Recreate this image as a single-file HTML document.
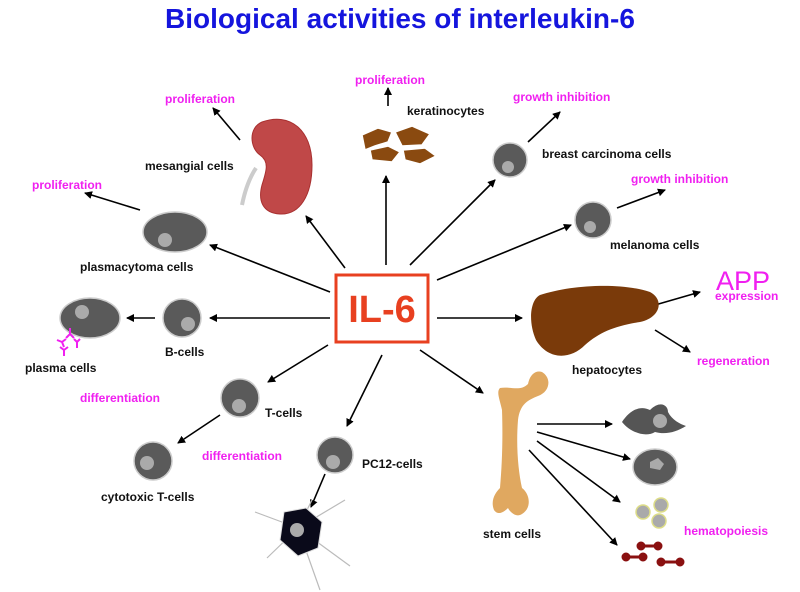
<!DOCTYPE html>
<html><head><meta charset="utf-8"><style>
html,body{margin:0;padding:0;background:#fff}
svg{display:block}
.b{font-family:"Liberation Sans",sans-serif;font-weight:bold;font-size:12px;fill:#111}
.p{font-family:"Liberation Sans",sans-serif;font-weight:bold;font-size:12px;fill:#f020f0}
</style></head><body>
<svg width="800" height="592" viewBox="0 0 800 592" xmlns="http://www.w3.org/2000/svg">
<defs>
<marker id="a" markerWidth="8" markerHeight="8" refX="7" refY="4" orient="auto" markerUnits="userSpaceOnUse"><path d="M0,0 L8,4 L0,8 z" fill="#000"/></marker>
</defs>
<text x="400" y="28" text-anchor="middle" font-family="Liberation Sans,sans-serif" font-weight="bold" font-size="28" fill="#1515dd">Biological activities of interleukin-6</text>

<rect x="336" y="275" width="92" height="67" fill="#fff" stroke="#e84020" stroke-width="3"/>
<text x="382" y="322" text-anchor="middle" font-family="Liberation Sans,sans-serif" font-weight="bold" font-size="38" fill="#e84020">IL-6</text>

<g stroke="#000" stroke-width="1.6" fill="none" marker-end="url(#a)">
<line x1="345" y1="268" x2="306" y2="216"/>
<line x1="240" y1="140" x2="213" y2="108"/>
<line x1="386" y1="265" x2="386" y2="176"/>
<line x1="388" y1="106" x2="388" y2="88"/>
<line x1="410" y1="265" x2="495" y2="180"/>
<line x1="528" y1="142" x2="560" y2="112"/>
<line x1="437" y1="280" x2="571" y2="225"/>
<line x1="617" y1="208" x2="665" y2="190"/>
<line x1="437" y1="318" x2="522" y2="318"/>
<line x1="655" y1="305" x2="700" y2="292"/>
<line x1="655" y1="330" x2="690" y2="352"/>
<line x1="420" y1="350" x2="483" y2="393"/>
<line x1="537" y1="424" x2="612" y2="424"/>
<line x1="537" y1="432" x2="630" y2="459"/>
<line x1="537" y1="441" x2="620" y2="502"/>
<line x1="529" y1="450" x2="617" y2="545"/>
<line x1="382" y1="355" x2="347" y2="426"/>
<line x1="325" y1="474" x2="311" y2="507"/>
<line x1="328" y1="345" x2="268" y2="382"/>
<line x1="220" y1="415" x2="178" y2="443"/>
<line x1="330" y1="318" x2="210" y2="318"/>
<line x1="155" y1="318" x2="127" y2="318"/>
<line x1="330" y1="292" x2="210" y2="245"/>
<line x1="140" y1="210" x2="85" y2="193"/>
</g>

<path d="M262,122 C290,112 312,130 312,165 C312,195 300,215 280,214 C262,213 258,200 262,185 C266,172 270,162 260,155 C250,148 248,128 262,122 z" fill="#c04848" stroke="#a83030"/>
<path d="M256,168 C248,180 244,195 242,205" stroke="#ccc" stroke-width="4" fill="none"/>
<g fill="#8a4a10" stroke="#fff" stroke-width="1.5">
<path d="M362,135 L378,128 L392,132 L388,142 L375,146 L365,150 z"/>
<path d="M395,132 L412,126 L430,134 L422,145 L402,146 z"/>
<path d="M370,150 L388,146 L400,152 L392,162 L372,160 z"/>
<path d="M403,150 L425,148 L436,156 L420,164 L405,160 z"/>
</g>
<g fill="#5a5a5a" stroke="#ccc" stroke-width="1.5">
<circle cx="510" cy="160" r="17"/>
<circle cx="593" cy="220" r="18"/>
<circle cx="335" cy="455" r="18"/>
<circle cx="240" cy="398" r="19"/>
<circle cx="153" cy="461" r="19"/>
<circle cx="182" cy="318" r="19"/>
<ellipse cx="90" cy="318" rx="30" ry="20"/>
<ellipse cx="175" cy="232" rx="32" ry="20"/>
<ellipse cx="655" cy="467" rx="22" ry="18"/>
</g>
<g fill="#aaa">
<circle cx="508" cy="167" r="6"/>
<circle cx="590" cy="227" r="6"/>
<circle cx="333" cy="462" r="7"/>
<circle cx="239" cy="406" r="7"/>
<circle cx="147" cy="463" r="7"/>
<circle cx="188" cy="324" r="7"/>
<circle cx="82" cy="312" r="7"/>
<circle cx="165" cy="240" r="7"/>
</g>
<g stroke="#f020f0" stroke-width="2" fill="none">
<path d="M70,328 l0,6 m0,0 l-4,4 m4,-4 l4,4"/>
<path d="M57,340 l5,2 m0,0 l2,5 m-2,-5 l4,-3"/>
<path d="M64,350 l0,6 m0,-6 l-4,-3 m4,3 l4,-3"/>
<path d="M77,342 l0,6 m0,-6 l-3,-3 m3,3 l3,-3"/>
</g>
<g stroke="#bbb" stroke-width="1.2">
<line x1="298" y1="528" x2="255" y2="512"/><line x1="298" y1="528" x2="312" y2="500"/>
<line x1="298" y1="528" x2="345" y2="500"/><line x1="298" y1="528" x2="267" y2="558"/>
<line x1="298" y1="528" x2="320" y2="590"/><line x1="298" y1="528" x2="350" y2="566"/>
</g>
<path d="M284,512 L306,508 L322,522 L318,548 L298,556 L280,540 z" fill="#0a0a1a" stroke="#ddd"/>
<circle cx="297" cy="530" r="7" fill="#aaa"/>
<path d="M540,295 C570,285 620,282 650,292 C665,300 660,318 640,322 C615,326 600,332 585,345 C570,360 548,360 536,340 C528,322 530,300 540,295 z" fill="#7a3a0a"/>
<path d="M542,372 C552,378 550,392 538,396 C528,400 520,404 518,420 C516,445 518,470 522,488 C530,494 532,508 522,514 C516,518 510,512 508,508 C504,512 498,516 494,510 C490,500 496,492 500,488 C502,465 503,440 502,410 C500,400 496,392 500,388 C510,386 520,392 528,384 C530,374 536,370 542,372 z" fill="#e0a860"/>
<path d="M622,422 C630,410 640,405 650,410 C660,400 668,405 668,412 C672,420 680,424 686,426 C676,432 666,435 655,432 C645,438 630,432 622,422 z" fill="#555"/>
<circle cx="660" cy="421" r="7" fill="#aaa"/>
<path d="M650,462 l8,-4 l6,6 l-4,6 l-10,-2 z" fill="#aaa"/>
<g fill="#aaa" stroke="#dddd88" stroke-width="1.5">
<circle cx="643" cy="512" r="7"/><circle cx="661" cy="505" r="7"/><circle cx="659" cy="521" r="7"/>
</g>
<g stroke="#8a1010" stroke-width="3" fill="#8a1010">
<line x1="641" y1="546" x2="658" y2="546"/><circle cx="641" cy="546" r="3"/><circle cx="658" cy="546" r="3"/>
<line x1="626" y1="557" x2="643" y2="557"/><circle cx="626" cy="557" r="3"/><circle cx="643" cy="557" r="3"/>
<line x1="661" y1="562" x2="680" y2="562"/><circle cx="661" cy="562" r="3"/><circle cx="680" cy="562" r="3"/>
</g>

<text class="p" x="165" y="103">proliferation</text>
<text class="b" x="145" y="170">mesangial cells</text>
<text class="p" x="355" y="84">proliferation</text>
<text class="b" x="407" y="115">keratinocytes</text>
<text class="p" x="513" y="101">growth inhibition</text>
<text class="b" x="542" y="158">breast carcinoma cells</text>
<text class="p" x="631" y="183">growth inhibition</text>
<text class="b" x="610" y="249">melanoma cells</text>
<text x="716" y="290" font-family="Liberation Sans,sans-serif" font-size="27" fill="#f020f0">APP</text>
<text class="p" x="715" y="300">expression</text>
<text class="p" x="697" y="365">regeneration</text>
<text class="b" x="572" y="374">hepatocytes</text>
<text class="p" x="684" y="535">hematopoiesis</text>
<text class="b" x="483" y="538">stem cells</text>
<text class="b" x="362" y="468">PC12-cells</text>
<text class="p" x="202" y="460">differentiation</text>
<text class="b" x="265" y="417">T-cells</text>
<text class="p" x="80" y="402">differentiation</text>
<text class="b" x="101" y="501">cytotoxic T-cells</text>
<text class="b" x="165" y="356">B-cells</text>
<text class="b" x="25" y="372">plasma cells</text>
<text class="b" x="80" y="271">plasmacytoma cells</text>
<text class="p" x="32" y="189">proliferation</text>
</svg>
</body></html>
